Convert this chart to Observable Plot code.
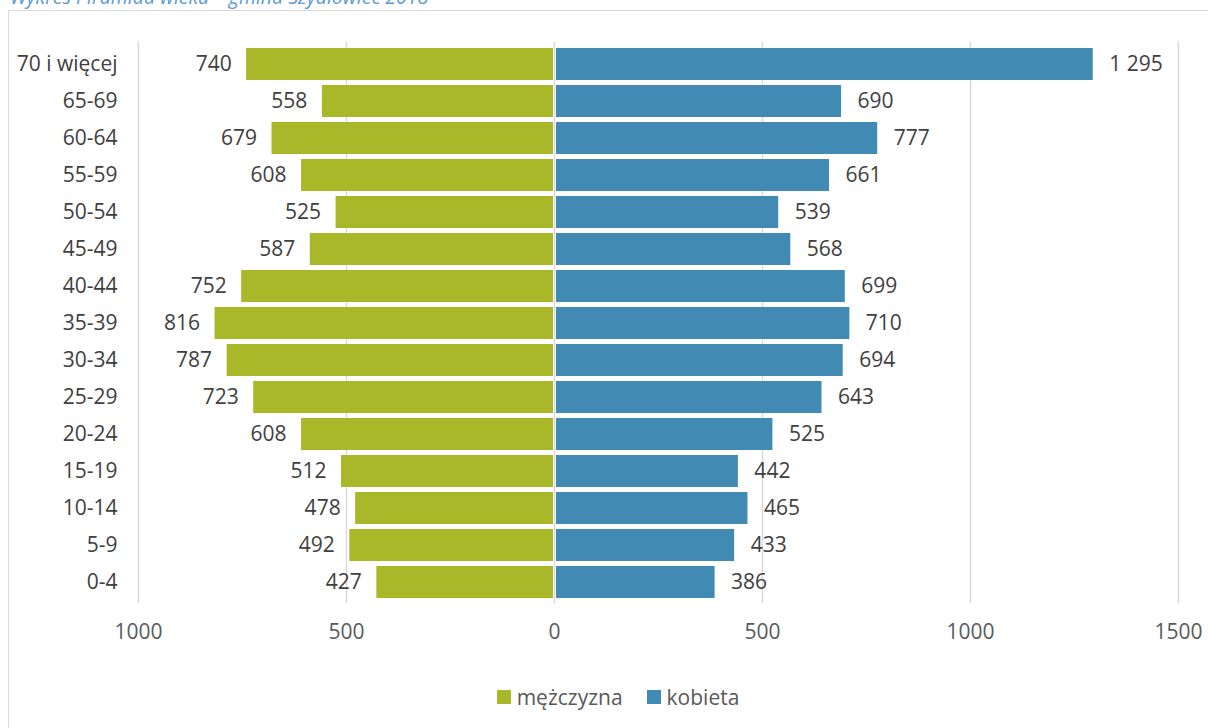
<!DOCTYPE html>
<html>
<head>
<meta charset="utf-8">
<script src="https://cdn.jsdelivr.net/npm/d3@7"></script>
<script src="https://cdn.jsdelivr.net/npm/@observablehq/plot@0.6"></script>
<style>
  html, body { margin: 0; padding: 0; background: #fff; overflow: hidden; }
  #wrap { position: relative; width: 1208px; height: 728px; overflow: hidden; font-family: "Open Sans", sans-serif; }
  #title { position: absolute; left: 10px; top: -15px; font-size: 19.5px; line-height: 24px; font-style: italic; color: #5b9bd5; white-space: nowrap; }
  #frame { position: absolute; left: 8px; top: 10px; right: -10px; bottom: -10px; border: 1.5px solid #d9d9d9; }
  #chart { position: absolute; left: 0; top: 0; }
  #legend { position: absolute; top: 683px; left: 0; width: 1208px; box-sizing: border-box; padding-left: 28px; display: flex; justify-content: center; gap: 24px; font-size: 21px; color: #595959; }
  .item { display: flex; align-items: center; gap: 6px; }
  .sw { width: 14px; height: 14px; display: inline-block; }
</style>
</head>
<body>
<div id="wrap">
  <div id="title">Wykres Piramida wieku – gmina Szydłowiec 2018</div>
  <div id="frame"></div>
  <div id="chart"></div>
  <div id="legend"></div>
</div>
<script>
const categories = ["70 i więcej","65-69","60-64","55-59","50-54","45-49","40-44","35-39","30-34","25-29","20-24","15-19","10-14","5-9","0-4"];
const men   = [740, 558, 679, 608, 525, 587, 752, 816, 787, 723, 608, 512, 478, 492, 427];
const women = [1295, 690, 777, 661, 539, 568, 699, 710, 694, 643, 525, 442, 465, 433, 386];
const xTicks = [-1000, -500, 0, 500, 1000, 1500];
const seriesNames = ["mężczyzna", "kobieta"];
const seriesColors = ["#a8b828", "#418ab4"];

const menData = categories.map((c, i) => ({age: c, value: men[i]}));
const womenData = categories.map((c, i) => ({age: c, value: women[i]}));
const fmt = d3.formatLocale({thousands: " ", grouping: [3], decimal: ","}).format(",d");

const chart = Plot.plot({
  width: 1208,
  height: 660,
  marginTop: 42,
  marginBottom: 57,
  marginLeft: 138,
  marginRight: 30,
  style: {fontFamily: "Open Sans, sans-serif", fontSize: "21px", color: "#404040", background: "transparent"},
  x: {domain: [-1000, 1500]},
  y: {domain: categories, padding: 0.145},
  marks: [
    Plot.ruleX(xTicks, {stroke: "#d9d9d9", strokeWidth: 1.5}),
    Plot.barX(menData, {y: "age", x1: d => -d.value, x2: 0, fill: seriesColors[0], insetRight: 1}),
    Plot.barX(womenData, {y: "age", x1: 0, x2: "value", fill: seriesColors[1], insetLeft: 2}),
    Plot.text(menData, {y: "age", x: d => -d.value, text: d => fmt(d.value), textAnchor: "end", dx: -15, fill: "#404040", fontSize: 21}),
    Plot.text(womenData, {y: "age", x: "value", text: d => fmt(d.value), textAnchor: "start", dx: 16, fill: "#404040", fontSize: 21}),
    Plot.axisX({ticks: xTicks, tickSize: 0, tickPadding: 21, tickFormat: d => String(Math.abs(d)), fontSize: 21, fill: "#595959", label: null}),
    Plot.axisY({tickSize: 0, tickPadding: 21, fontSize: 21, fill: "#404040", label: null})
  ]
});
document.getElementById("chart").appendChild(chart);

const legend = document.getElementById("legend");
seriesNames.forEach((n, i) => {
  const it = document.createElement("div");
  it.className = "item";
  const sw = document.createElement("span");
  sw.className = "sw";
  sw.style.background = seriesColors[i];
  const t = document.createElement("span");
  t.textContent = n;
  it.appendChild(sw); it.appendChild(t);
  legend.appendChild(it);
});
</script>
</body>
</html>
